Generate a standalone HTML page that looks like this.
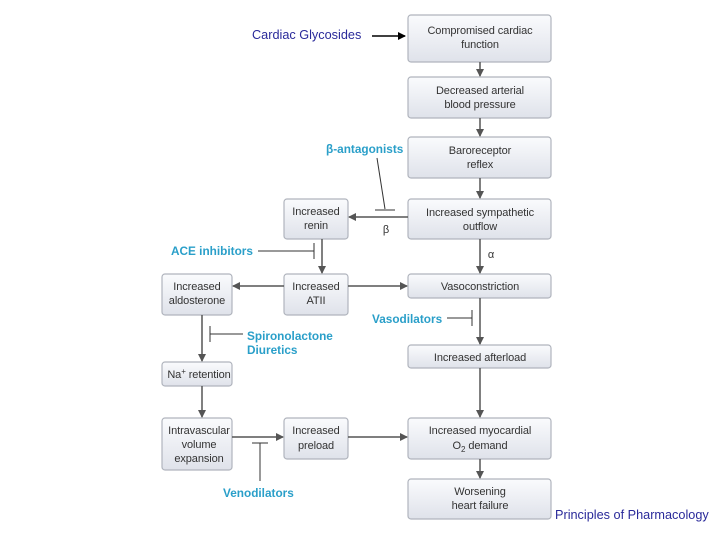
<!DOCTYPE html>
<html><head><meta charset="utf-8"><style>
html,body{margin:0;padding:0;background:#fff}
svg{display:block}
text{font-family:"Liberation Sans",sans-serif}
.b{font-size:11px;fill:#333;text-anchor:middle;letter-spacing:-0.1px}
.c{font-size:11.8px;fill:#2a9fc9;font-weight:bold}
</style></head><body>
<svg width="720" height="540" viewBox="0 0 720 540">
<defs>
<linearGradient id="g" x1="0" y1="0" x2="0" y2="1"><stop offset="0" stop-color="#fafbfd"/><stop offset="1" stop-color="#dfe2ea"/></linearGradient>
<marker id="a" markerWidth="8" markerHeight="8" refX="7" refY="4" orient="auto" markerUnits="userSpaceOnUse"><path d="M0,0 L8,4 L0,8 z" fill="#555"/></marker>
<marker id="k" markerWidth="8" markerHeight="8" refX="7" refY="4" orient="auto" markerUnits="userSpaceOnUse"><path d="M0,0 L8,4 L0,8 z" fill="#000"/></marker>
</defs>
<g fill="url(#g)" stroke="#b0b4bd" stroke-width="1.2">
<rect x="408" y="15" width="143" height="47" rx="3"/>
<rect x="408" y="77" width="143" height="41" rx="3"/>
<rect x="408" y="137" width="143" height="41" rx="3"/>
<rect x="408" y="199" width="143" height="40" rx="3"/>
<rect x="408" y="274" width="143" height="24" rx="3"/>
<rect x="408" y="345" width="143" height="23" rx="3"/>
<rect x="408" y="418" width="143" height="41" rx="3"/>
<rect x="408" y="479" width="143" height="40" rx="3"/>
<rect x="284" y="199" width="64" height="40" rx="3"/>
<rect x="284" y="274" width="64" height="41" rx="3"/>
<rect x="284" y="418" width="64" height="41" rx="3"/>
<rect x="162" y="274" width="70" height="41" rx="3"/>
<rect x="162" y="362" width="70" height="24" rx="3"/>
<rect x="162" y="418" width="70" height="52" rx="3"/>
</g>
<g stroke="#555" stroke-width="1.5" fill="none">
<line x1="480" y1="62" x2="480" y2="76" marker-end="url(#a)"/>
<line x1="480" y1="118" x2="480" y2="136" marker-end="url(#a)"/>
<line x1="480" y1="178" x2="480" y2="198" marker-end="url(#a)"/>
<line x1="480" y1="239" x2="480" y2="273" marker-end="url(#a)"/>
<line x1="480" y1="298" x2="480" y2="344" marker-end="url(#a)"/>
<line x1="480" y1="368" x2="480" y2="417" marker-end="url(#a)"/>
<line x1="480" y1="459" x2="480" y2="478" marker-end="url(#a)"/>
<line x1="408" y1="217" x2="349" y2="217" marker-end="url(#a)"/>
<line x1="322" y1="239" x2="322" y2="273" marker-end="url(#a)"/>
<line x1="284" y1="286" x2="233" y2="286" marker-end="url(#a)"/>
<line x1="348" y1="286" x2="407" y2="286" marker-end="url(#a)"/>
<line x1="202" y1="315" x2="202" y2="361" marker-end="url(#a)"/>
<line x1="202" y1="386" x2="202" y2="417" marker-end="url(#a)"/>
<line x1="232" y1="437" x2="283" y2="437" marker-end="url(#a)"/>
<line x1="348" y1="437" x2="407" y2="437" marker-end="url(#a)"/>
</g>
<g stroke="#333" stroke-width="1">
<line x1="377" y1="158" x2="385" y2="209"/><line x1="375" y1="210" x2="395" y2="210"/>
<line x1="258" y1="251" x2="314" y2="251"/><line x1="314" y1="243" x2="314" y2="259"/>
<line x1="447" y1="318" x2="472" y2="318"/><line x1="472" y1="310" x2="472" y2="326"/>
<line x1="210" y1="334" x2="243" y2="334"/><line x1="210" y1="326" x2="210" y2="342"/>
<line x1="252" y1="443" x2="268" y2="443"/><line x1="260" y1="443" x2="260" y2="481"/>
</g>
<line x1="372" y1="36" x2="405" y2="36" stroke="#000" stroke-width="1.5" marker-end="url(#k)"/>
<text x="252" y="39" style="font-size:12.7px;fill:#2a2a9a">Cardiac Glycosides</text>
<text x="555" y="519" style="font-size:12.7px;fill:#2a2a9a">Principles of Pharmacology</text>
<g class="b">
<text x="480" y="34">Compromised cardiac</text><text x="480" y="48">function</text>
<text x="480" y="94">Decreased arterial</text><text x="480" y="108">blood pressure</text>
<text x="480" y="154">Baroreceptor</text><text x="480" y="168">reflex</text>
<text x="480" y="216">Increased sympathetic</text><text x="480" y="230">outflow</text>
<text x="480" y="290">Vasoconstriction</text>
<text x="480" y="361">Increased afterload</text>
<text x="480" y="434">Increased myocardial</text><text x="480" y="449">O<tspan font-size="8" dy="3">2</tspan><tspan dy="-3"> demand</tspan></text>
<text x="480" y="495">Worsening</text><text x="480" y="509">heart failure</text>
<text x="316" y="215">Increased</text><text x="316" y="229">renin</text>
<text x="316" y="290">Increased</text><text x="316" y="304">ATII</text>
<text x="316" y="434">Increased</text><text x="316" y="449">preload</text>
<text x="197" y="290">Increased</text><text x="197" y="304">aldosterone</text>
<text x="199" y="378">Na<tspan font-size="8" dy="-4">+</tspan><tspan dy="4"> retention</tspan></text>
<text x="199" y="434">Intravascular</text><text x="199" y="448">volume</text><text x="199" y="462">expansion</text>
<text x="386" y="233">β</text>
<text x="491" y="258">α</text>
</g>
<text class="c" x="326" y="153">β-antagonists</text>
<text class="c" x="171" y="255">ACE inhibitors</text>
<text class="c" x="372" y="323">Vasodilators</text>
<text class="c" x="247" y="340">Spironolactone</text>
<text class="c" x="247" y="354">Diuretics</text>
<text class="c" x="223" y="497">Venodilators</text>
</svg>
</body></html>
